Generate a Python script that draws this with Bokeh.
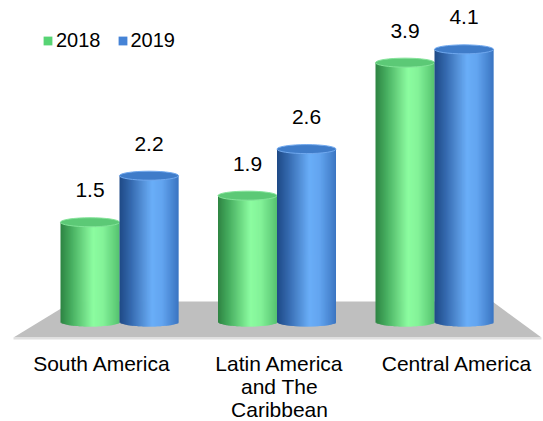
import numpy as np
from bokeh.plotting import figure
from bokeh.models import Range1d, Legend, LegendItem, ColumnDataSource
from bokeh.embed import file_html
from bokeh.resources import INLINE
from bokeh.core.properties import value

# ---------------- data ----------------
categories = ["South America", "Latin America\nand The\nCaribbean", "Central America"]
series_names = ["2018", "2019"]
values_2018 = [1.5, 1.9, 3.9]
values_2019 = [2.2, 2.6, 4.1]

# ---------------- layout constants (pixels) ----------------
W, H = 543, 421
PX_X = 157.5      # pixels per category step (bars)
PX_Y = 66.5       # pixels per value unit
X0_PX = 119.0     # pixel x of first category centre
BASE_PX = 321.5   # pixel y (from top) of value 0
LABEL_STEP_PX = 177.5   # category labels are spread wider (perspective)
LABEL_MID_PX = 279.0

x_start = -X0_PX / PX_X
x_end = x_start + W / PX_X
y_end = BASE_PX / PX_Y
y_start = -(H - BASE_PX) / PX_Y

FONT = "Liberation Sans"
FS = "21px"

p = figure(width=W, height=H, x_range=Range1d(x_start, x_end),
           y_range=Range1d(y_start, y_end), output_backend="svg",
           toolbar_location=None, min_border=0,
           x_axis_location=None, y_axis_location=None)
p.grid.visible = False
p.outline_line_color = None
p.background_fill_color = "white"
p.border_fill_color = "white"

# ---------------- floor ----------------
n = len(categories)
f_top = 20.5 / PX_Y
f_bot = -15.5 / PX_Y
floor_x = [-0.673, -0.298, (n - 1) + 0.368, (n - 1) + 0.679]
floor_y = [f_bot, f_top, f_top, f_bot]
p.patch(x=floor_x, y=floor_y, fill_color="#bfbfbf", line_color=None)
p.quad(left=[floor_x[0]], right=[floor_x[3]], top=[f_bot], bottom=[f_bot - 2.0 / PX_Y],
       fill_color="#e0e0e0", line_color=None)

# ---------------- cylinders ----------------
bar_w = 59.0 / PX_X
half_off = bar_w / 2
b = 4.5 / PX_Y
N = 60
overlap = 0.8 / PX_X

green_stops = [(0.0, "#2e8443"), (0.18, "#46ad5f"), (0.55, "#8cfca0"),
               (0.72, "#84f399"), (1.0, "#55c26f")]
blue_stops = [(0.0, "#1f4a86"), (0.18, "#3367ac"), (0.55, "#6aaef8"),
              (0.72, "#63a5f0"), (1.0, "#3a75c2")]


def hex2rgb(h):
    h = h.lstrip("#")
    return np.array([int(h[i:i + 2], 16) for i in (0, 2, 4)], dtype=float)


def grad(stops, t):
    for (t0, c0), (t1, c1) in zip(stops[:-1], stops[1:]):
        if t0 <= t <= t1:
            f = (t - t0) / (t1 - t0)
            c = hex2rgb(c0) * (1 - f) + hex2rgb(c1) * f
            return "#%02x%02x%02x" % tuple(int(round(v)) for v in c)
    return stops[-1][1]


def cylinders(vals, offset, stops, top_fill, top_line, legend_color):
    L, R, T, B, C = [], [], [], [], []
    centers = []
    for i, v in enumerate(vals):
        cx = i + offset
        centers.append(cx)
        edges = np.linspace(cx - bar_w / 2, cx + bar_w / 2, N + 1)
        for j in range(N):
            mid = 0.5 * (edges[j] + edges[j + 1])
            u = (mid - cx) / (bar_w / 2)
            t = (j + 0.5) / N
            L.append(edges[j])
            R.append(edges[j + 1] + (overlap if j < N - 1 else 0.0))
            T.append(v)
            B.append(-b * np.sqrt(max(0.0, 1 - u * u)))
            C.append(grad(stops, t))
    src = ColumnDataSource(dict(left=L, right=R, top=T, bottom=B, color=C))
    p.quad(left="left", right="right", top="top", bottom="bottom", source=src,
           fill_color="color", line_color=None)
    p.ellipse(x=centers, y=vals, width=bar_w, height=2 * b,
              fill_color=top_fill, line_color=top_line, line_width=1)
    p.text(x=centers, y=[v + 32.0 / PX_Y for v in vals],
           text=[("%.1f" % v) for v in vals], text_align="center",
           text_baseline="middle", text_font=value(FONT), text_font_size=FS,
           text_color="#000000")
    # renderer used only for the legend swatch (no visible mark: NaN)
    return p.quad(left=[np.nan], right=[np.nan], top=[np.nan], bottom=[np.nan],
                  fill_color=legend_color, line_color=None)


r18 = cylinders(values_2018, -half_off, green_stops, "#5cc976", "#82e398", "#57d474")
r19 = cylinders(values_2019, +half_off, blue_stops, "#3f7cc9", "#70a8ee", "#4583d6")

# ---------------- category labels ----------------
LINE = 23.0 / PX_Y
first_y = (BASE_PX - 362.5) / PX_Y
lx, ly, lt = [], [], []
for i, cat in enumerate(categories):
    xc = (LABEL_MID_PX + (i - 1) * LABEL_STEP_PX - X0_PX) / PX_X
    for k, line in enumerate(cat.split("\n")):
        lx.append(xc)
        ly.append(first_y - k * LINE)
        lt.append(line)
p.text(x=lx, y=ly, text=lt, text_align="center", text_baseline="middle",
       text_font=value(FONT), text_font_size=FS, text_color="#000000")

# ---------------- legend ----------------
legend = Legend(items=[LegendItem(label=series_names[0], renderers=[r18]),
                       LegendItem(label=series_names[1], renderers=[r19])],
                orientation="horizontal", location=(42, 369),
                glyph_width=11, glyph_height=11, label_standoff=3, spacing=16,
                padding=0, margin=0, border_line_color=None,
                background_fill_alpha=0, label_text_font=FONT,
                label_text_font_size="20px", label_text_color="#000000",
                label_height=20)
p.add_layout(legend)

open("out.html", "w").write(file_html(p, INLINE))
